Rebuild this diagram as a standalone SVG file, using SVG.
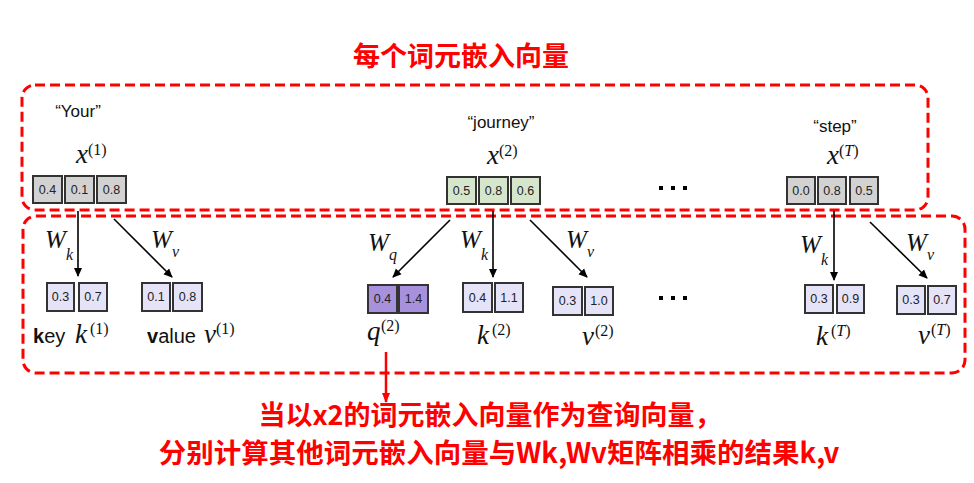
<svg xmlns="http://www.w3.org/2000/svg" width="974" height="483" viewBox="0 0 974 483">
<defs>
<marker id="ah" viewBox="0 0 10 10" refX="9" refY="5" markerWidth="9" markerHeight="9" orient="auto" markerUnits="userSpaceOnUse">
<path d="M0,0.5 L10,5 L0,9.5 z" fill="#000"/>
</marker>
<marker id="ahr" viewBox="0 0 10 10" refX="9" refY="5" markerWidth="10" markerHeight="10" orient="auto" markerUnits="userSpaceOnUse">
<path d="M0,1 L10,5 L0,9 z" fill="#ff0000"/>
</marker>
<style>
.dash{fill:none;stroke:#ff0000;stroke-width:3;stroke-dasharray:10 5}
.cell{stroke:#333;stroke-width:2}
.g{fill:#d2d2d2}.gr{fill:#d5e6cd}.lv{fill:#e5e3f8}.pu{fill:#a891dc}
.num{font-family:"Liberation Sans",Arial,sans-serif;font-size:12.5px;fill:#222;text-anchor:middle}
.word{font-family:"Liberation Sans",Arial,sans-serif;font-size:17px;fill:#111;text-anchor:middle}
.m{font-family:"Liberation Serif","Times New Roman",serif;font-style:italic;font-size:27px;fill:#111}
.w{font-family:"Liberation Serif","Times New Roman",serif;font-style:italic;font-size:25px;fill:#111}
.sub{font-family:"Liberation Serif","Times New Roman",serif;font-style:italic;font-size:16px;fill:#111}
.sup{font-family:"Liberation Serif","Times New Roman",serif;font-size:16px;fill:#111}
.lab{font-family:"Liberation Sans",Arial,sans-serif;font-size:20px;fill:#111}
.red{font-family:"Noto Sans CJK SC","Noto Sans",sans-serif;font-weight:bold;fill:#ff0000;text-anchor:middle}
.arr{stroke:#000;stroke-width:1.6;fill:none;marker-end:url(#ah)}
.dot{fill:#000}
</style>
</defs>
<rect width="974" height="483" fill="#fff"/>

<g id="title"><text class="red" x="461" y="66" font-size="27">每个词元嵌入向量</text></g>

<g id="frame-top"><rect class="dash" x="22" y="85" width="906" height="125" rx="13"/></g>
<g id="frame-bottom"><rect class="dash" x="23" y="216" width="942" height="157" rx="13"/></g>

<g id="x1">
<text class="word" x="78" y="117">“Your”</text>
<text class="m" x="76" y="163">x</text><text class="sup" x="88" y="155">(1)</text>
<rect class="cell g" x="33" y="176" width="29" height="27"/><text class="num" x="47.5" y="194">0.4</text>
<rect class="cell g" x="65" y="176" width="29" height="27"/><text class="num" x="79.5" y="194">0.1</text>
<rect class="cell g" x="97" y="176" width="29" height="27"/><text class="num" x="111.5" y="194">0.8</text>
</g>

<g id="x2">
<text class="word" x="501" y="128">“journey”</text>
<text class="m" x="487" y="164">x</text><text class="sup" x="499" y="156">(2)</text>
<rect class="cell gr" x="447" y="177" width="29" height="27"/><text class="num" x="461.5" y="195">0.5</text>
<rect class="cell gr" x="479" y="177" width="29" height="27"/><text class="num" x="493.5" y="195">0.8</text>
<rect class="cell gr" x="511" y="177" width="29" height="27"/><text class="num" x="525.5" y="195">0.6</text>
</g>

<g id="dots-top"><rect class="dot" x="659" y="186" width="4" height="4"/><rect class="dot" x="671" y="186" width="4" height="4"/><rect class="dot" x="683" y="186" width="4" height="4"/></g>

<g id="xT">
<text class="word" x="835" y="132">“step”</text>
<text class="m" x="827" y="164">x</text><text class="sup" x="839" y="156">(<tspan font-style="italic">T</tspan>)</text>
<rect class="cell g" x="787" y="177" width="28" height="27"/><text class="num" x="801" y="195">0.0</text>
<rect class="cell g" x="818" y="177" width="28" height="27"/><text class="num" x="832" y="195">0.8</text>
<rect class="cell g" x="850" y="177" width="28" height="27"/><text class="num" x="864" y="195">0.5</text>
</g>

<g id="k1">
<rect class="cell lv" x="47" y="283" width="27" height="28"/><text class="num" x="60.5" y="301">0.3</text>
<rect class="cell lv" x="79" y="283" width="28" height="28"/><text class="num" x="93" y="301">0.7</text>
<text class="lab" x="33" y="343"><tspan font-weight="bold">k</tspan>ey</text>
<text class="m" x="75" y="343">k</text><text class="sup" x="90" y="334">(1)</text>
</g>

<g id="v1">
<rect class="cell lv" x="142" y="283" width="28" height="28"/><text class="num" x="156" y="301">0.1</text>
<rect class="cell lv" x="173" y="283" width="29" height="28"/><text class="num" x="187.5" y="301">0.8</text>
<text class="lab" x="147" y="343"><tspan font-weight="bold">v</tspan>alue</text>
<text class="m" x="204" y="343">v</text><text class="sup" x="216" y="334">(1)</text>
</g>

<g id="q2">
<rect class="cell pu" x="368" y="285" width="29" height="28"/><text class="num" x="382.5" y="303">0.4</text>
<rect class="cell pu" x="399" y="285" width="29" height="28"/><text class="num" x="413.5" y="303">1.4</text>
<text class="m" x="367" y="340">q</text><text class="sup" x="381" y="331">(2)</text>
</g>

<g id="k2">
<rect class="cell lv" x="463" y="283" width="29" height="29"/><text class="num" x="477.5" y="302">0.4</text>
<rect class="cell lv" x="495" y="283" width="28" height="29"/><text class="num" x="509" y="302">1.1</text>
<text class="m" x="477" y="344">k</text><text class="sup" x="492" y="335">(2)</text>
</g>

<g id="v2">
<rect class="cell lv" x="553" y="287" width="29" height="28"/><text class="num" x="567.5" y="305">0.3</text>
<rect class="cell lv" x="585" y="287" width="28" height="28"/><text class="num" x="599" y="305">1.0</text>
<text class="m" x="582" y="345">v</text><text class="sup" x="595" y="336">(2)</text>
</g>

<g id="dots-bottom"><rect class="dot" x="659" y="296" width="4" height="4"/><rect class="dot" x="671" y="296" width="4" height="4"/><rect class="dot" x="683" y="296" width="4" height="4"/></g>

<g id="kT">
<rect class="cell lv" x="805" y="285" width="28" height="28"/><text class="num" x="819" y="303">0.3</text>
<rect class="cell lv" x="837" y="285" width="27" height="28"/><text class="num" x="850.5" y="303">0.9</text>
<text class="m" x="816" y="345">k</text><text class="sup" x="831" y="336">(<tspan font-style="italic">T</tspan>)</text>
</g>

<g id="vT">
<rect class="cell lv" x="897" y="286" width="28" height="28"/><text class="num" x="911" y="304">0.3</text>
<rect class="cell lv" x="928" y="286" width="28" height="28"/><text class="num" x="942" y="304">0.7</text>
<text class="m" x="918" y="344">v</text><text class="sup" x="931" y="335">(<tspan font-style="italic">T</tspan>)</text>
</g>

<g id="note">
<text class="red" x="490" y="425" font-size="27">当以x2的词元嵌入向量作为查询向量，</text>
<text class="red" x="499" y="463" font-size="27.5">分别计算其他词元嵌入向量与Wk,Wv矩阵相乘的结果k,v</text>
</g>

<g id="connectors">
<line class="arr" x1="78" y1="211" x2="78" y2="276"/>
<line class="arr" x1="114" y1="219" x2="172" y2="277"/>
<line class="arr" x1="450" y1="220" x2="393" y2="277"/>
<line class="arr" x1="493" y1="211" x2="493" y2="277"/>
<line class="arr" x1="530" y1="220" x2="587" y2="277"/>
<line class="arr" x1="834" y1="211" x2="834" y2="280"/>
<line class="arr" x1="870" y1="222" x2="927" y2="278"/>
<line x1="386" y1="352" x2="386" y2="402" stroke="#ff0000" stroke-width="2.5" marker-end="url(#ahr)"/>
<g id="wlabels">
<text class="w" x="45" y="248">W</text><text class="sub" x="66" y="260">k</text>
<text class="w" x="151" y="248">W</text><text class="sub" x="172" y="257">v</text>
<text class="w" x="368" y="251">W</text><text class="sub" x="389" y="260">q</text>
<text class="w" x="460" y="248">W</text><text class="sub" x="481" y="260">k</text>
<text class="w" x="566" y="248">W</text><text class="sub" x="587" y="257">v</text>
<text class="w" x="800" y="253">W</text><text class="sub" x="821" y="265">k</text>
<text class="w" x="906" y="251">W</text><text class="sub" x="927" y="260">v</text>
</g>
</g>
</svg>
